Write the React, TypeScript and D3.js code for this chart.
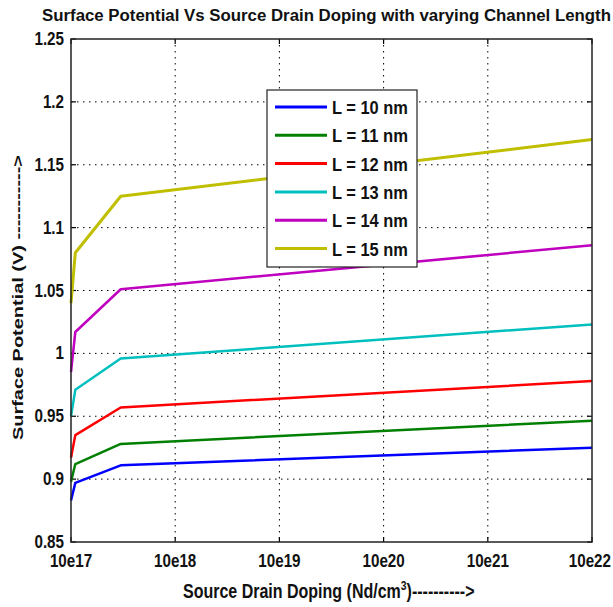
import React, { useRef, useEffect } from 'react';
import * as d3 from 'd3';

// doping points (Nd/cm^3) shared by every curve
const doping = [1e17, 1.1e17, 3e17, 1e22];

const seriesNames = ['L = 10 nm', 'L = 11 nm', 'L = 12 nm', 'L = 13 nm', 'L = 14 nm', 'L = 15 nm'];
const L10 = [0.883, 0.897, 0.911, 0.925];
const L11 = [0.898, 0.912, 0.928, 0.9465];
const L12 = [0.917, 0.935, 0.957, 0.978];
const L13 = [0.95, 0.971, 0.996, 1.023];
const L14 = [0.985, 1.017, 1.051, 1.086];
const L15 = [1.04, 1.08, 1.125, 1.17];
const seriesColors = ['#0000ff', '#007f00', '#ff0000', '#00bfbf', '#bf00bf', '#bfbf00'];

const xTicks = [1e17, 1e18, 1e19, 1e20, 1e21, 1e22];
const xTickLabels = ['10e17', '10e18', '10e19', '10e20', '10e21', '10e22'];
const yTicks = [0.85, 0.9, 0.95, 1, 1.05, 1.1, 1.15, 1.2, 1.25];
const yTickLabels = ['0.85', '0.9', '0.95', '1', '1.05', '1.1', '1.15', '1.2', '1.25'];

const FONT = "'Liberation Sans', Arial, sans-serif";
const NARROW = 0.8; // fake a narrow face by squeezing horizontally

const App: React.FC = () => {
  const svgRef = useRef<SVGSVGElement>(null);

  useEffect(() => {
    if (!svgRef.current) return;
    const svg = d3.select(svgRef.current);
    svg.selectAll('*').remove();

    const left = 71, right = 592, top = 39, bottom = 542;

    const x = d3.scaleLog().domain([1e17, 1e22]).range([left, right]);
    const y = d3.scaleLinear().domain([0.85, 1.25]).range([bottom, top]);

    svg.append('rect').attr('width', 613).attr('height', 607).attr('fill', '#fff');

    const narrowText = (px: number, py: number, size: number, anchor: string) =>
      svg.append('text')
        .attr('transform', `translate(${px},${py}) scale(${NARROW},1)`)
        .attr('text-anchor', anchor)
        .attr('font-family', FONT).attr('font-weight', 'bold')
        .attr('font-size', size).attr('fill', '#111');

    // grid
    const grid = svg.append('g').attr('stroke', '#000').attr('stroke-width', 1)
      .attr('stroke-dasharray', '1.5,4.5');
    xTicks.slice(1, -1).forEach(t => {
      grid.append('line').attr('x1', x(t)).attr('x2', x(t)).attr('y1', top).attr('y2', bottom);
    });
    yTicks.slice(1, -1).forEach(t => {
      grid.append('line').attr('x1', left).attr('x2', right).attr('y1', y(t)).attr('y2', y(t));
    });

    // tick marks inside box
    const ticks = svg.append('g').attr('stroke', '#000').attr('stroke-width', 1.2);
    xTicks.forEach(t => {
      ticks.append('line').attr('x1', x(t)).attr('x2', x(t)).attr('y1', bottom).attr('y2', bottom - 5);
      ticks.append('line').attr('x1', x(t)).attr('x2', x(t)).attr('y1', top).attr('y2', top + 5);
    });
    yTicks.forEach(t => {
      ticks.append('line').attr('x1', left).attr('x2', left + 5).attr('y1', y(t)).attr('y2', y(t));
      ticks.append('line').attr('x1', right).attr('x2', right - 5).attr('y1', y(t)).attr('y2', y(t));
    });

    // curves
    const allSeries = [L10, L11, L12, L13, L14, L15];
    const line = d3.line<number>()
      .x((_, i) => x(doping[i]))
      .y(d => y(d));
    allSeries.forEach((s, i) => {
      svg.append('path')
        .attr('d', line(s)!)
        .attr('fill', 'none')
        .attr('stroke', seriesColors[i])
        .attr('stroke-width', i === 5 ? 3 : 2.5)
        .attr('stroke-linejoin', 'round');
    });

    // frame
    svg.append('rect').attr('x', left).attr('y', top)
      .attr('width', right - left).attr('height', bottom - top)
      .attr('fill', 'none').attr('stroke', '#222').attr('stroke-width', 1.5);

    // tick labels
    yTicks.forEach((t, i) => {
      narrowText(64, y(t) + 6, 19, 'end').text(yTickLabels[i]);
    });
    xTicks.forEach((t, i) => {
      const last = i === xTicks.length - 1;
      narrowText(last ? 611 : x(t), 567, 19, last ? 'end' : 'middle').text(xTickLabels[i]);
    });

    // title
    svg.append('text').attr('x', 42).attr('y', 21)
      .attr('font-family', FONT).attr('font-weight', 'bold').attr('font-size', 16)
      .attr('fill', '#111').attr('textLength', 569).attr('lengthAdjust', 'spacingAndGlyphs')
      .text('Surface Potential Vs Source Drain Doping with varying Channel Length');

    // x label
    const xl = narrowText(183, 598, 20, 'start');
    xl.append('tspan').text('Source Drain Doping (Nd/cm');
    xl.append('tspan').attr('dy', -8).attr('font-size', 13).text('3');
    xl.append('tspan').attr('dy', 8).text(')---------->');

    // y label
    svg.append('text').attr('transform', 'translate(23,440) rotate(-90)')
      .attr('font-family', FONT).attr('font-weight', 'bold')
      .attr('font-size', 15).attr('fill', '#111')
      .attr('textLength', 285).attr('lengthAdjust', 'spacingAndGlyphs')
      .text('Surface Potential (V) ----------->');

    // legend
    const lg = svg.append('g');
    lg.append('rect').attr('x', 267).attr('y', 90).attr('width', 150).attr('height', 177)
      .attr('fill', '#fff').attr('stroke', '#222').attr('stroke-width', 1.2);
    seriesNames.forEach((name, i) => {
      const cy = 107 + i * 28.3;
      lg.append('line').attr('x1', 275).attr('x2', 327).attr('y1', cy).attr('y2', cy)
        .attr('stroke', seriesColors[i]).attr('stroke-width', 3);
      lg.append('text').attr('x', 332).attr('y', cy + 7)
        .attr('font-family', FONT).attr('font-weight', 'bold').attr('font-size', 19)
        .attr('fill', '#111').attr('textLength', 76).attr('lengthAdjust', 'spacingAndGlyphs')
        .text(name);
    });
  }, []);

  return (
    <svg ref={svgRef} width={613} height={607}
      style={{ position: 'absolute', left: 0, top: 0 }} />
  );
};

export default App;
